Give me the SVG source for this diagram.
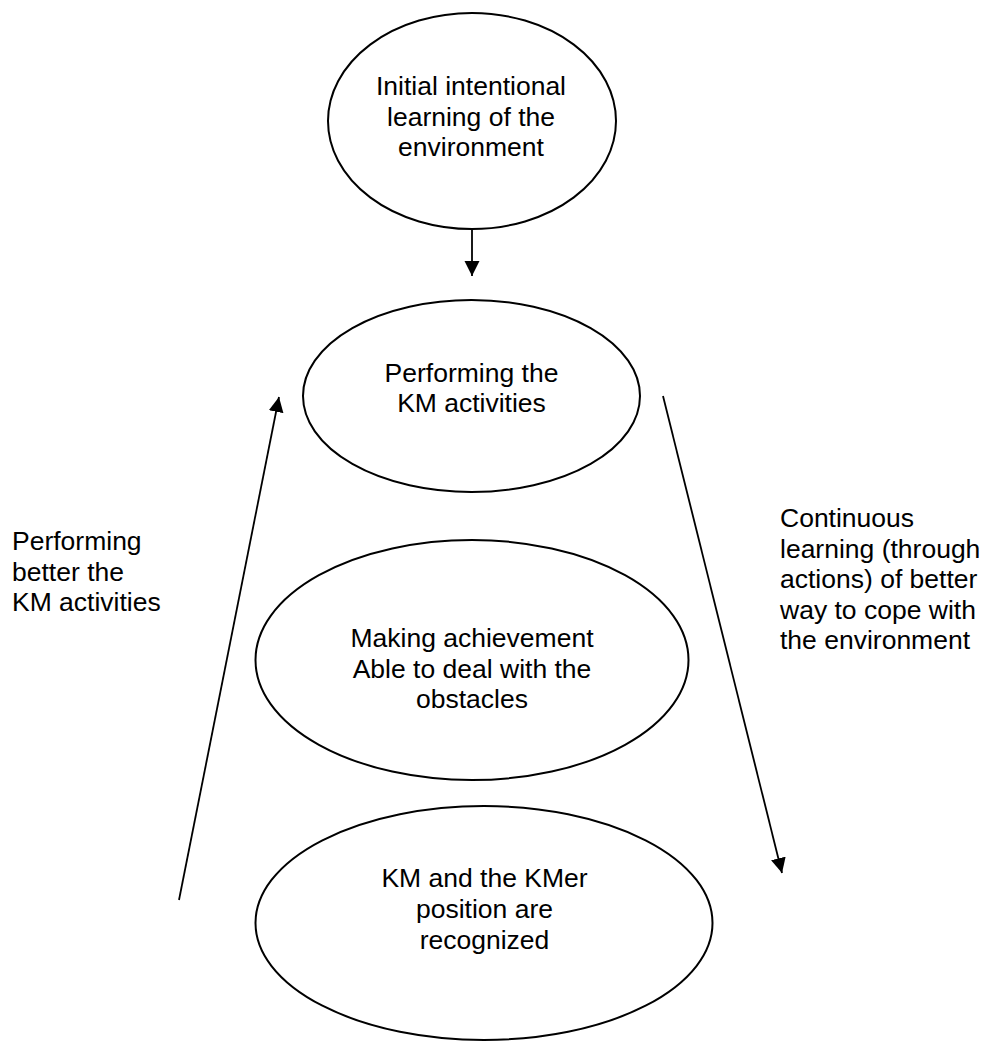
<svg xmlns="http://www.w3.org/2000/svg" width="983" height="1041" viewBox="0 0 983 1041">
<defs>
<style>
.node ellipse{fill:#fff;stroke:#000;stroke-width:2}
text{font-family:"Liberation Sans",Arial,sans-serif;font-size:26.5px;fill:#000}
.c{text-anchor:middle}
.conn line{stroke:#000;stroke-width:1.8;fill:none}
</style>
<marker id="ah" markerUnits="userSpaceOnUse" markerWidth="16" markerHeight="16" refX="15" refY="7.5" orient="auto">
<path d="M0,0 L15,7.5 L0,15 Z" fill="#000"/>
</marker>
</defs>
<rect width="983" height="1041" fill="#fff"/>
<g id="n1" class="node">
<ellipse cx="472" cy="121" rx="144" ry="108"/>
<text class="c" x="471" y="95">Initial intentional</text>
<text class="c" x="471" y="126">learning of the</text>
<text class="c" x="471" y="156">environment</text>
</g>
<g id="n2" class="node">
<ellipse cx="471.5" cy="396" rx="168.5" ry="96"/>
<text class="c" x="471.5" y="382">Performing the</text>
<text class="c" x="471.5" y="412">KM activities</text>
</g>
<g id="n3" class="node">
<ellipse cx="472" cy="660" rx="216.5" ry="120"/>
<text class="c" x="472" y="647">Making achievement</text>
<text class="c" x="472" y="677.5">Able to deal with the</text>
<text class="c" x="472" y="708">obstacles</text>
</g>
<g id="n4" class="node">
<ellipse cx="484" cy="923" rx="228.5" ry="117"/>
<text class="c" x="484.5" y="887">KM and the KMer</text>
<text class="c" x="484.5" y="918">position are</text>
<text class="c" x="484.5" y="949">recognized</text>
</g>
<g id="lbl-left">
<text x="12" y="550">Performing</text>
<text x="12" y="580.5">better the</text>
<text x="12" y="611">KM activities</text>
</g>
<g id="lbl-right">
<text x="780" y="527">Continuous</text>
<text x="780" y="557.5">learning (through</text>
<text x="780" y="588">actions) of better</text>
<text x="780" y="618.5">way to cope with</text>
<text x="780" y="649">the environment</text>
</g>
<g id="connectors" class="conn">
<line x1="472" y1="229" x2="472" y2="276" marker-end="url(#ah)"/>
<line x1="179" y1="900" x2="279" y2="397" marker-end="url(#ah)"/>
<line x1="663" y1="396" x2="782" y2="873" marker-end="url(#ah)"/>
</g>
</svg>
